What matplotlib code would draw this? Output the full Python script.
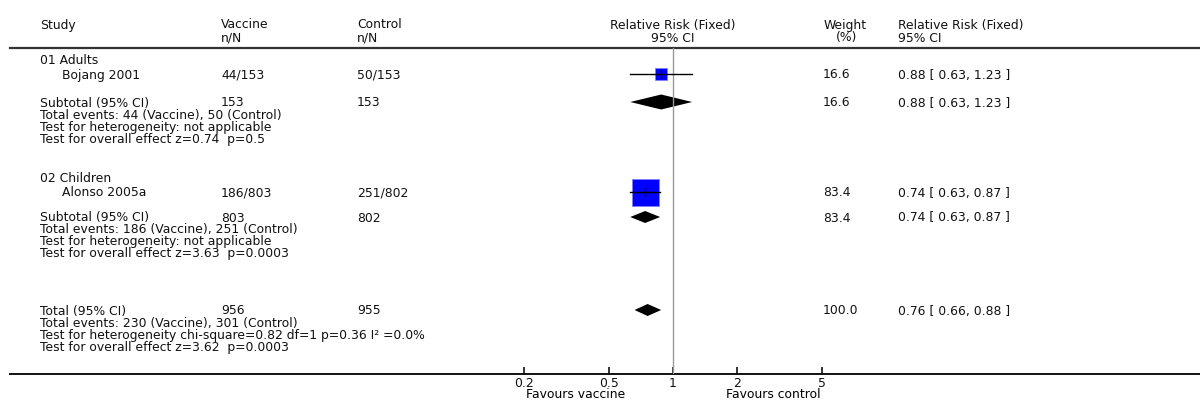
import matplotlib.pyplot as plt
from matplotlib.patches import Polygon, Rectangle
import numpy as np

plt.rcParams['font.family'] = ['DejaVu Sans']

# Data -------------------------------------------------------------------------
groups = ['01 Adults', '02 Children']
studies = ['Bojang 2001', 'Alonso 2005a']
vacc_nN = ['44/153', '186/803']
ctrl_nN = ['50/153', '251/802']
study_rr = [0.88, 0.74]
study_lo = [0.63, 0.63]
study_hi = [1.23, 0.87]
study_wt = [16.6, 83.4]

sub_vacc = ['153', '803']
sub_ctrl = ['153', '802']
sub_rr = [0.88, 0.74]
sub_lo = [0.63, 0.63]
sub_hi = [1.23, 0.87]
sub_wt = [16.6, 83.4]
sub_notes = [
    ['Total events: 44 (Vaccine), 50 (Control)',
     'Test for heterogeneity: not applicable',
     'Test for overall effect z=0.74  p=0.5'],
    ['Total events: 186 (Vaccine), 251 (Control)',
     'Test for heterogeneity: not applicable',
     'Test for overall effect z=3.63  p=0.0003'],
]

tot_vacc, tot_ctrl = '956', '955'
tot_rr, tot_lo, tot_hi, tot_wt = 0.76, 0.66, 0.88, 100.0
tot_notes = ['Total events: 230 (Vaccine), 301 (Control)',
             'Test for heterogeneity chi-square=0.82 df=1 p=0.36 I\u00b2 =0.0%',
             'Test for overall effect z=3.62  p=0.0003']

ticks = [0.2, 0.5, 1, 2, 5]
tick_labels = ['0.2', '0.5', '1', '2', '5']

# Layout (pixels) --------------------------------------------------------------
W, H = 1200, 405
FS = 8.9
X_STUDY, X_IND, X_VAC, X_CTL, X_WT, X_RR = 40, 62, 221, 357, 823, 898
Y_TOP, Y_BOT = 48, 374
study_y = [74, 192]
group_y = [60, 178]
sub_y = [102, 217]
tot_y = 310
sq_size = [12, 27]
dia_h = [15, 12]

fig = plt.figure(figsize=(12, 4.05), dpi=100)
bg = fig.add_axes([0, 0, 1, 1])
bg.set_xlim(0, W)
bg.set_ylim(H, 0)
bg.axis('off')

def txt(x, y, s, **kw):
    # y is the text's visual centre; place on a common baseline
    bg.text(x, y + 4.5, s, fontsize=FS, va='baseline', color='#111111', **kw)

# header
txt(X_STUDY, 24, 'Study')
txt(X_VAC, 24, 'Vaccine')
txt(X_VAC, 37, 'n/N')
txt(X_CTL, 24, 'Control')
txt(X_CTL, 37, 'n/N')
txt(673, 24, 'Relative Risk (Fixed)', ha='center')
txt(673, 37, '95% CI', ha='center')
txt(845, 24, 'Weight', ha='center')
txt(847, 37, '(%)', ha='center')
txt(X_RR, 24, 'Relative Risk (Fixed)')
txt(X_RR, 37, '95% CI')
bg.plot([10, W], [Y_TOP, Y_TOP], color='#333333', lw=1.6)
bg.plot([10, W], [Y_BOT, Y_BOT], color='#111111', lw=1.4)

# forest axes: log scale, 1 at x=673, 213 px per decade
lo_dec, hi_dec = -1.0, 1.0
x0 = 673 + 213 * lo_dec
x1 = 673 + 213 * hi_dec
ax = fig.add_axes([x0 / W, 1 - Y_BOT / H, (x1 - x0) / W, (Y_BOT - Y_TOP) / H])
ax.patch.set_alpha(0)
ax.set_xscale('log')
ax.set_xlim(10 ** lo_dec, 10 ** hi_dec)
ax.set_ylim(Y_BOT, Y_TOP)
for s in ['top', 'left', 'right', 'bottom']:
    ax.spines[s].set_visible(False)
ax.set_yticks([])
ax.set_xticks(ticks)
ax.set_xticklabels(tick_labels, fontsize=FS)
ax.minorticks_off()
ax.tick_params(axis='x', direction='in', length=5, width=1.2, pad=2, colors='#111111')
ax.axvline(1, color='#999999', lw=1)
ax.text(0.35, Y_BOT + 21, 'Favours vaccine', fontsize=FS, ha='center', va='center',
        clip_on=False)
ax.text(2.95, Y_BOT + 21, 'Favours control', fontsize=FS, ha='center', va='center',
        clip_on=False)

# pixel -> data helpers for marker sizes
def xpix(v):
    return 673 + 213 * np.log10(v)

def xval(p):
    return 10 ** ((p - 673) / 213)

def diamond(rr, lo, hi, y, h):
    pts = [(lo, y), (rr, y - h / 2), (hi, y), (rr, y + h / 2)]
    ax.add_patch(Polygon(pts, closed=True, color='black', lw=0))

for i in range(2):
    txt(X_STUDY, group_y[i], groups[i])
    y = study_y[i]
    txt(X_IND, y, studies[i])
    txt(X_VAC, y, vacc_nN[i])
    txt(X_CTL, y, ctrl_nN[i])
    txt(X_WT, y, '%.1f' % study_wt[i])
    txt(X_RR, y, '%.2f [ %.2f, %.2f ]' % (study_rr[i], study_lo[i], study_hi[i]))
    s = sq_size[i]
    px = xpix(study_rr[i])
    ax.add_patch(Rectangle((xval(px - s / 2), y - s / 2), xval(px + s / 2) - xval(px - s / 2), s,
                           facecolor='#0000ff', edgecolor='#8080ff', lw=0.6, zorder=2))
    ax.plot([study_lo[i], study_hi[i]], [y, y], color='black', lw=1, zorder=3)
    ax.plot([study_rr[i], study_rr[i]], [y - 4, y + 4], color='black', lw=1, zorder=3)

    y = sub_y[i]
    txt(X_STUDY, y, 'Subtotal (95% CI)')
    txt(X_VAC, y, sub_vacc[i])
    txt(X_CTL, y, sub_ctrl[i])
    txt(X_WT, y, '%.1f' % sub_wt[i])
    txt(X_RR, y, '%.2f [ %.2f, %.2f ]' % (sub_rr[i], sub_lo[i], sub_hi[i]))
    diamond(sub_rr[i], sub_lo[i], sub_hi[i], y, dia_h[i])
    for k, line in enumerate(sub_notes[i]):
        txt(X_STUDY, y + 12 * (k + 1), line)

txt(X_STUDY, tot_y, 'Total (95% CI)')
txt(X_VAC, tot_y, tot_vacc)
txt(X_CTL, tot_y, tot_ctrl)
txt(X_WT, tot_y, '%.1f' % tot_wt)
txt(X_RR, tot_y, '%.2f [ %.2f, %.2f ]' % (tot_rr, tot_lo, tot_hi))
diamond(tot_rr, tot_lo, tot_hi, tot_y, 12)
for k, line in enumerate(tot_notes):
    txt(X_STUDY, tot_y + 12 * (k + 1), line)

fig.savefig('out.png', dpi=100)
